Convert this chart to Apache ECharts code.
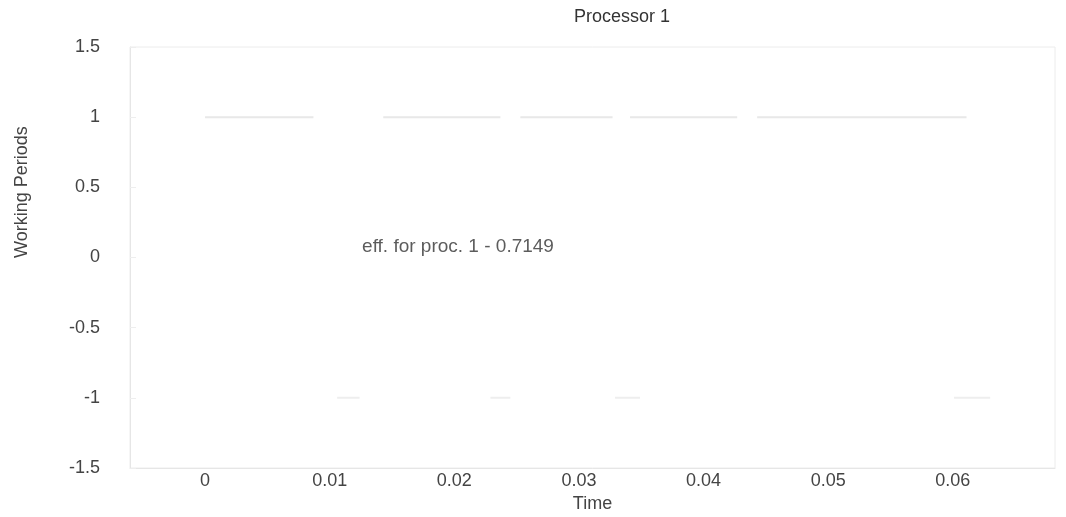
<!DOCTYPE html>
<html>
<head>
<meta charset="utf-8">
<script src="https://cdn.jsdelivr.net/npm/echarts@6/dist/echarts.min.js"></script>
<style>
  html, body { margin: 0; padding: 0; background: #fff; }
  #chart { width: 1066px; height: 517px; }
</style>
</head>
<body>
<div id="chart"></div>
<script>
// working periods (value 1), in seconds
const workStart = [0, 0.0143, 0.0253, 0.0341, 0.0443];
const workEnd   = [0.0087, 0.0237, 0.0327, 0.0427, 0.0611];
// idle marks (value -1)
const idleStart = [0.0106, 0.0229, 0.0329, 0.0601];
const idleEnd   = [0.0124, 0.0245, 0.0349, 0.0630];
const xTicks = [0, 0.01, 0.02, 0.03, 0.04, 0.05, 0.06];
const effText = 'eff. for proc. 1 - 0.7149';
const effPos = [0.0126, 0.08];

// 把区段变成折线数据, 中间用 '-' 断开
function segments(starts, ends, level) {
    const out = [];
    starts.forEach((s, i) => {
        out.push([s, level], [ends[i], level], [ends[i], '-']);
    });
    return out;
}

const chart = echarts.init(document.getElementById('chart'));
const font = 'Liberation Sans, Arial, sans-serif';

chart.setOption({
    backgroundColor: '#fff',
    animation: false,
    title: {
        text: 'Processor 1',
        left: 617,
        top: 3,
        textAlign: 'center',
        textStyle: { fontFamily: font, fontSize: 18, fontWeight: 'normal', color: '#333' }
    },
    grid: { left: 130, right: 11, top: 47, bottom: 49, outerBoundsMode: 'none' },
    xAxis: {
        type: 'value',
        min: -0.00602,
        max: 0.0682,
        name: 'Time',
        nameLocation: 'middle',
        nameGap: 24,
        nameTextStyle: { fontFamily: font, fontSize: 18, color: '#444' },
        axisLine: { show: true, onZero: false, lineStyle: { color: '#e6e6e6' } },
        axisTick: { show: false },
        axisLabel: {
            customValues: xTicks,
            margin: 4,
            fontFamily: font, fontSize: 18, color: '#444'
        },
        splitLine: { show: false }
    },
    yAxis: {
        type: 'value',
        min: -1.5,
        max: 1.5,
        interval: 0.5,
        axisLine: { show: true, onZero: false, lineStyle: { color: '#e6e6e6' } },
        axisTick: { show: true, inside: true, length: 6, lineStyle: { color: '#eee' } },
        axisLabel: { margin: 30, fontFamily: font, fontSize: 18, color: '#444' },
        splitLine: { show: false }
    },
    graphic: [
        {
            type: 'text',
            x: 13,
            y: 258,
            rotation: Math.PI / 2,
            style: { text: 'Working Periods', font: '18px ' + font, fill: '#444', textVerticalAlign: 'top' }
        },
        {
            type: 'rect',
            shape: { x: 130, y: 47, width: 925, height: 421 },
            style: { fill: 'none', stroke: '#ececec', lineWidth: 1 },
            silent: true
        }
    ],
    series: [
        {
            name: 'working',
            type: 'line',
            showSymbol: false,
            data: segments(workStart, workEnd, 1),
            lineStyle: { color: '#e8e8e8', width: 2 }
        },
        {
            name: 'idle',
            type: 'line',
            showSymbol: false,
            data: segments(idleStart, idleEnd, -1),
            lineStyle: { color: '#eeeeee', width: 2 }
        },
        {
            name: 'eff',
            type: 'scatter',
            symbolSize: 0,
            data: [effPos],
            label: {
                show: true,
                position: 'right',
                distance: 0,
                formatter: effText,
                fontFamily: font, fontSize: 19, color: '#333'
            }
        }
    ]
});
</script>
</body>
</html>
